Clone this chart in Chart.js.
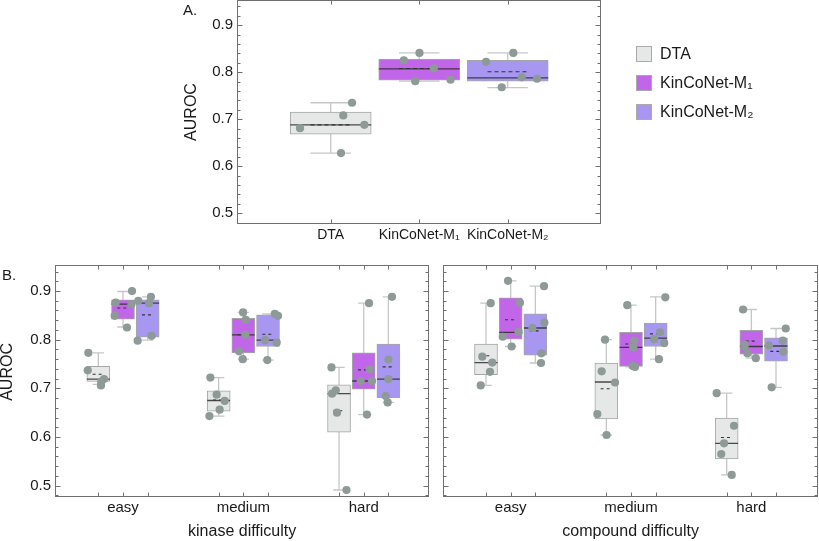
<!DOCTYPE html>
<html>
<head>
<meta charset="utf-8">
<script src="https://cdn.jsdelivr.net/npm/chart.js@4.4.1/dist/chart.umd.min.js"></script>
<style>
  body { margin: 0; background: #fff; }
  #wrap { position: relative; width: 819px; height: 541px; overflow: hidden;
          font-family: 'Liberation Sans', Arial, sans-serif; color: #1a1a1a; }
  #wrap canvas { position: absolute; left: 0; top: 0; }
  .panel-label { position: absolute; font-size: 15px; line-height: 15px; }
  #legend { position: absolute; left: 636px; top: 46px; font-size: 16px; }
  .legend-row { display: flex; align-items: center; height: 16px; margin-bottom: 13px; white-space: nowrap; }
  .legend-box { width: 16px; height: 16px; border: 1px solid #a9abab; box-sizing: border-box; margin-right: 8px; }
</style>
</head>
<body>
<div id="wrap">
  <canvas id="chartA" width="819" height="541"></canvas>
  <canvas id="chartKinase" width="819" height="541"></canvas>
  <canvas id="chartCompound" width="819" height="541"></canvas>
  <div class="panel-label" style="left:183px; top:2px;">A.</div>
  <div class="panel-label" style="left:2px; top:267px;">B.</div>
  <div id="legend"></div>
</div>
<script>
// ---- data ----
const seriesNames = ['DTA', 'KinCoNet-M\u2081', 'KinCoNet-M\u2082'];
const groupLabels = ['easy', 'medium', 'hard'];
const yTickValues = [0.5, 0.6, 0.7, 0.8, 0.9];

// Panel A (one box per model)
const aLow    = [0.628, 0.781, 0.767];
const aQ1     = [0.668, 0.783, 0.781];
const aMedian = [0.688, 0.807, 0.788];
const aQ3     = [0.715, 0.828, 0.825];
const aHigh   = [0.735, 0.841, 0.841];
const aMean   = [0.688, 0.808, 0.801];
const aPoints = [
  [0.681, 0.708, 0.735, 0.688, 0.628],
  [0.825, 0.841, 0.808, 0.784, 0.781],
  [0.822, 0.841, 0.789, 0.786, 0.768]
];
const aJitter = [
  [-0.347, 0.142, 0.241, 0.380, 0.116],
  [-0.174, 0.003, 0.165, 0.354, -0.045],
  [-0.245, 0.063, 0.158, 0.331, -0.068]
];

// Panel B, kinase difficulty: [series][group]
const kLow    = [[0.708, 0.643, 0.491], [0.826, 0.760, 0.646], [0.799, 0.758, 0.671]];
const kQ1     = [[0.714, 0.653, 0.610], [0.842, 0.773, 0.698], [0.805, 0.786, 0.681]];
const kMedian = [[0.719, 0.675, 0.689], [0.873, 0.810, 0.715], [0.875, 0.799, 0.719]];
const kQ3     = [[0.745, 0.695, 0.707], [0.882, 0.844, 0.773], [0.882, 0.851, 0.791]];
const kHigh   = [[0.773, 0.722, 0.743], [0.899, 0.856, 0.875], [0.888, 0.853, 0.888]];
const kMean   = [[0.729, 0.676, 0.654], [0.865, 0.810, 0.738], [0.851, 0.811, 0.744]];
const kPoints = [
  [[0.773, 0.737, 0.719, 0.714, 0.706], [0.722, 0.687, 0.674, 0.656, 0.643], [0.743, 0.696, 0.689, 0.650, 0.491]],
  [[0.900, 0.876, 0.849, 0.825, 0.873], [0.856, 0.841, 0.810, 0.776, 0.760], [0.875, 0.739, 0.715, 0.715, 0.646]],
  [[0.880, 0.888, 0.875, 0.808, 0.798], [0.853, 0.849, 0.799, 0.794, 0.758], [0.888, 0.759, 0.719, 0.684, 0.671]]
];
const kJitter = [
  [[-0.083, -0.088, 0.047, 0.025, 0.022], [-0.069, -0.017, 0.050, 0.008, -0.077], [-0.063, -0.027, -0.058, -0.017, 0.062]],
  [[0.075, -0.061, -0.069, 0.033, 0.070], [-0.002, 0.020, 0.017, -0.036, -0.005], [0.044, 0.050, -0.025, 0.069, 0.027]],
  [[-0.078, 0.027, 0.011, 0.033, -0.083], [0.056, 0.083, -0.025, 0.072, -0.006], [0.030, 0.000, 0.000, -0.022, -0.006]]
];

// Panel B, compound difficulty: [series][group]
const cLow    = [[0.706, 0.604, 0.522], [0.786, 0.744, 0.762], [0.752, 0.760, 0.702]];
const cQ1     = [[0.728, 0.637, 0.555], [0.801, 0.745, 0.770], [0.768, 0.786, 0.756]];
const cMedian = [[0.753, 0.713, 0.587], [0.815, 0.784, 0.786], [0.824, 0.803, 0.787]];
const cQ3     = [[0.791, 0.752, 0.639], [0.886, 0.815, 0.819], [0.853, 0.834, 0.804]];
const cHigh   = [[0.875, 0.800, 0.690], [0.921, 0.871, 0.862], [0.910, 0.888, 0.823]];
const cMean   = [[0.767, 0.699, 0.599], [0.841, 0.791, 0.797], [0.818, 0.812, 0.776]];
const cPoints = [
  [[0.875, 0.765, 0.753, 0.734, 0.706], [0.800, 0.735, 0.712, 0.647, 0.604], [0.690, 0.623, 0.587, 0.565, 0.522]],
  [[0.921, 0.876, 0.816, 0.806, 0.786], [0.871, 0.798, 0.784, 0.746, 0.744], [0.862, 0.786, 0.772, 0.762, 0.790]],
  [[0.910, 0.835, 0.824, 0.772, 0.752], [0.887, 0.815, 0.801, 0.793, 0.760], [0.823, 0.798, 0.788, 0.775, 0.702]]
];
const cJitter = [
  [[0.039, -0.031, 0.052, 0.033, -0.044], [-0.011, -0.039, 0.072, -0.075, 0.002], [-0.083, 0.061, -0.022, -0.045, 0.042]],
  [[-0.022, 0.077, 0.066, -0.066, 0.008], [-0.031, 0.027, 0.019, 0.014, 0.033], [-0.069, -0.058, -0.033, 0.037, -0.055]],
  [[0.072, 0.075, -0.025, 0.050, 0.047], [0.080, 0.036, -0.012, 0.071, 0.027], [0.081, 0.056, -0.058, 0.061, -0.036]]
];

// ---- styling ----
const boxFill = ['#e6e8e7', '#c166e8', '#a797f1'];
const boxBorder = '#a4a6a6';
const whiskerColor = '#c5c7c7';
const pointColor = '#8e9a97';
const frameColor = '#707070';
const seriesShift = [-0.205, 0, 0.205];

Chart.defaults.font.family = "'Liberation Sans', Arial, sans-serif";
Chart.defaults.color = '#1a1a1a';

// legend
const legend = document.getElementById('legend');
seriesNames.forEach((name, i) => {
  const row = document.createElement('div');
  row.className = 'legend-row';
  const sw = document.createElement('span');
  sw.className = 'legend-box';
  sw.style.background = boxFill[i];
  row.appendChild(sw);
  row.appendChild(document.createTextNode(name));
  legend.appendChild(row);
});

// frame with inward ticks on all four sides
const framePlugin = {
  id: 'frame',
  afterDraw(chart, args, opts) {
    const { ctx, chartArea: a } = chart;
    const x = chart.scales.x, y = chart.scales.y;
    const L = Math.round(a.left) + 0.5, R = Math.round(a.right) - 0.5;
    const T = Math.round(a.top) + 0.5, B = Math.round(a.bottom) - 0.5;
    ctx.save();
    ctx.strokeStyle = frameColor;
    ctx.lineWidth = 1;
    ctx.strokeRect(L, T, R - L, B - T);
    ctx.beginPath();
    const k0 = Math.ceil(y.min / 0.02 - 1e-6), k1 = Math.floor(y.max / 0.02 + 1e-6);
    for (let k = k0; k <= k1; k++) {
      const py = Math.round(y.getPixelForValue(k * 0.02)) + 0.5;
      const len = k % 5 === 0 ? 5 : 3;
      ctx.moveTo(L, py); ctx.lineTo(L + len, py);
      ctx.moveTo(R, py); ctx.lineTo(R - len, py);
    }
    (opts.xMarks || []).forEach(v => {
      const px = Math.round(x.getPixelForValue(v)) + 0.5;
      ctx.moveTo(px, B); ctx.lineTo(px, B - 4);
      ctx.moveTo(px, T); ctx.lineTo(px, T + 4);
    });
    ctx.stroke();
    ctx.restore();
  }
};

function boxDatasets(boxes, cfg) {
  const whisk = [], med = [], mean = [], pts = [];
  const gap = (x) => ({ x, y: null });
  const capW = cfg.boxW * 0.5, meanW = cfg.boxW * 0.5;
  boxes.forEach(b => {
    whisk.push({ x: b.x, y: b.low }, { x: b.x, y: b.high }, gap(b.x));
    whisk.push({ x: b.x - capW / 2, y: b.low }, { x: b.x + capW / 2, y: b.low }, gap(b.x));
    whisk.push({ x: b.x - capW / 2, y: b.high }, { x: b.x + capW / 2, y: b.high }, gap(b.x));
    med.push({ x: b.x - cfg.boxW / 2, y: b.med }, { x: b.x + cfg.boxW / 2, y: b.med }, gap(b.x));
    mean.push({ x: b.x - meanW / 2, y: b.mean }, { x: b.x + meanW / 2, y: b.mean }, gap(b.x));
    b.pts.forEach((v, i) => pts.push({ x: b.x + b.jit[i], y: v }));
  });
  const lineBase = { type: 'line', pointRadius: 0, fill: false, tension: 0, spanGaps: false };
  return [
    { type: 'scatter', data: pts, order: 0, pointRadius: 4.1, backgroundColor: pointColor, borderWidth: 0 },
    { ...lineBase, data: mean, order: 1, borderColor: '#333333', borderWidth: 1.1, borderDash: cfg.dash },
    { ...lineBase, data: med, order: 2, borderColor: 'rgba(45,45,45,0.85)', borderWidth: 1.3 },
    { type: 'bar', data: boxes.map(b => ({ x: b.x, y: [b.q1, b.q3] })), order: 3,
      backgroundColor: boxes.map(b => b.fill), borderColor: boxBorder, borderWidth: 1,
      borderSkipped: false, barThickness: cfg.barPx, grouped: false },
    { ...lineBase, data: whisk, order: 4, borderColor: whiskerColor, borderWidth: 1.3 }
  ];
}

function makeChart(id, cfg) {
  return new Chart(document.getElementById(id), {
    type: 'scatter',
    data: { datasets: boxDatasets(cfg.boxes, cfg) },
    options: {
      responsive: false,
      animation: false,
      events: [],
      layout: { padding: cfg.padding, autoPadding: false },
      plugins: { legend: { display: false }, tooltip: { enabled: false }, frame: { xMarks: cfg.xMarks } },
      scales: {
        x: {
          type: 'linear', min: cfg.xMin, max: cfg.xMax, offset: false,
          grid: { display: false, drawTicks: false }, border: { display: false },
          afterBuildTicks: s => { s.ticks = cfg.xLabels.map((_, i) => ({ value: i })); },
          // fixed height, and no label overhang pushing the plot area around
          afterFit: s => { s.height = cfg.xHeight; s.paddingLeft = 0; s.paddingRight = 0; },
          ticks: { padding: cfg.xPad, font: { size: cfg.xFont }, autoSkip: false, maxRotation: 0,
                   callback: (v, i) => cfg.xLabels[i] },
          title: { display: !!cfg.xTitle, text: cfg.xTitle, font: { size: 16 }, padding: 0 }
        },
        y: {
          type: 'linear', min: 0.4772, max: 0.9535, display: cfg.showY,
          grid: { display: false, drawTicks: false }, border: { display: false },
          afterBuildTicks: s => { s.ticks = yTickValues.map(v => ({ value: v })); },
          afterFit: s => { s.width = cfg.yWidth; s.paddingTop = 0; s.paddingBottom = 0; },
          ticks: { padding: 4, font: { size: 15 }, callback: v => v.toFixed(1) },
          title: { display: !!cfg.yTitle, text: cfg.yTitle, font: { size: 16, lineHeight: 1 }, padding: 0 }
        }
      }
    },
    plugins: [framePlugin]
  });
}

// panel A
const boxesA = seriesNames.map((_, s) => ({
  x: s, low: aLow[s], q1: aQ1[s], med: aMedian[s], q3: aQ3[s], high: aHigh[s], mean: aMean[s],
  pts: aPoints[s], jit: aJitter[s], fill: boxFill[s]
}));
makeChart('chartA', {
  boxes: boxesA, boxW: 0.915, barPx: 81, dash: [4, 3],
  xMin: -1.059, xMax: 3.054, xLabels: seriesNames, xMarks: [0, 1, 2],
  xHeight: 30, xPad: 3, xFont: 14, yWidth: 53, showY: true, yTitle: 'AUROC',
  padding: { left: 184, top: 0, right: 218, bottom: 287 }
});

// panel B helpers
function groupedBoxes(low, q1, med, q3, high, mean, points, jitter) {
  const out = [];
  groupLabels.forEach((_, g) => {
    seriesNames.forEach((_, s) => {
      out.push({
        x: g + seriesShift[s], low: low[s][g], q1: q1[s][g], med: med[s][g], q3: q3[s][g],
        high: high[s][g], mean: mean[s][g], pts: points[s][g], jit: jitter[s][g], fill: boxFill[s]
      });
    });
  });
  return out;
}
const boxMarks = [];
groupLabels.forEach((_, g) => seriesShift.forEach(d => boxMarks.push(g + d)));

makeChart('chartKinase', {
  boxes: groupedBoxes(kLow, kQ1, kMedian, kQ3, kHigh, kMean, kPoints, kJitter),
  boxW: 0.19, barPx: 23, dash: [3, 3],
  xMin: -0.565, xMax: 2.545, xLabels: groupLabels, xMarks: boxMarks,
  xHeight: 44.3, xPad: 2, xFont: 15, xTitle: 'kinase difficulty',
  yWidth: 55, showY: true, yTitle: '    AUROC',
  padding: { left: 0, top: 265, right: 389.7, bottom: 0 }
});

makeChart('chartCompound', {
  boxes: groupedBoxes(cLow, cQ1, cMedian, cQ3, cHigh, cMean, cPoints, cJitter),
  boxW: 0.19, barPx: 23, dash: [3, 3],
  xMin: -0.56, xMax: 2.554, xLabels: groupLabels, xMarks: boxMarks,
  xHeight: 44.3, xPad: 2, xFont: 15, xTitle: 'compound difficulty',
  yWidth: 0, showY: false,
  padding: { left: 443.3, top: 265, right: 1, bottom: 0 }
});
</script>
</body>
</html>
